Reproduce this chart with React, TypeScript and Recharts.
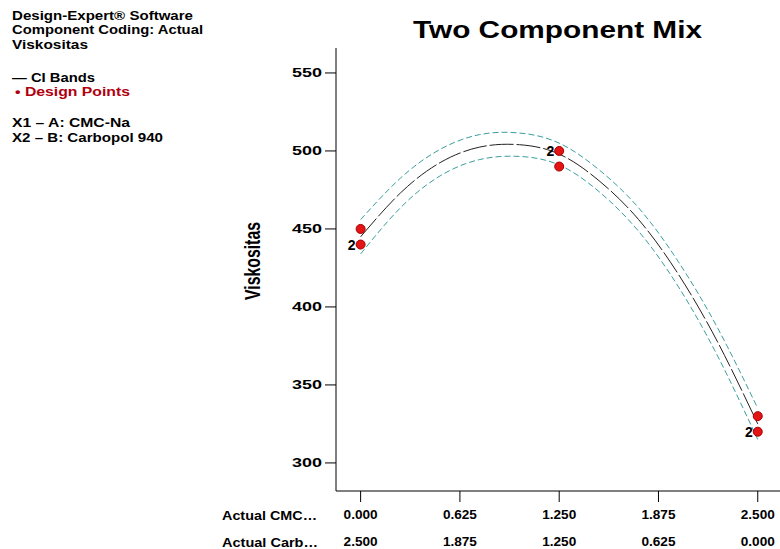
import React from 'react';
import { ComposedChart, Line, Scatter, XAxis, YAxis } from 'recharts';

// fitted curve (actual CMC-Na amount)
const curveX = [0, 0.25, 0.5, 0.75, 1.0, 1.25, 1.5, 1.75, 2.0, 2.25, 2.5];
const meanValues = [445, 473, 492.5, 502.5, 504, 498, 481, 456, 421, 377, 325];
const upperValues = [456, 482.5, 501, 510.5, 511.5, 505, 488, 463.5, 429, 386, 335];
const lowerValues = [434, 463.5, 484, 494.5, 496.5, 491, 474, 448.5, 413, 368, 315];

// design points, with replicate counts
const pointX = [0, 0, 1.25, 1.25, 2.5, 2.5];
const pointY = [450, 440, 500, 490, 330, 320];
const pointRep = ['', '2', '2', '', '', '2'];

const xTicks = [0, 0.625, 1.25, 1.875, 2.5];
const yTicks = [300, 350, 400, 450, 500, 550];
const infoLines = ['Design-Expert® Software', 'Component Coding: Actual', 'Viskositas'];
const factorLines = ['X1 – A: CMC-Na', 'X2 – B: Carbopol 940'];

const FONT = '"Liberation Sans", Arial, sans-serif';
const TOTAL = 2.5;

const curveRows = curveX.map((x, i) => ({ x, mean: meanValues[i], upper: upperValues[i], lower: lowerValues[i] }));
const pointRows = pointX.map((x, i) => ({ x, y: pointY[i], rep: pointRep[i] }));

const YTick = (props: any) => {
  const { x, y, payload } = props;
  return (
    <text x={x} y={y + 4} textAnchor="end" fontFamily={FONT} fontWeight="bold" fontSize={12} fill="#000"
      textLength={30} lengthAdjust="spacingAndGlyphs">
      {payload.value}
    </text>
  );
};

const XTick = (props: any) => {
  const { x, y, payload } = props;
  const v = payload.value as number;
  const other = Math.abs(TOTAL - v);
  return (
    <g>
      <text x={x} y={y + 15} textAnchor="middle" fontFamily={FONT} fontWeight="bold" fontSize={12} fill="#000"
        textLength={34} lengthAdjust="spacingAndGlyphs">
        {v.toFixed(3)}
      </text>
      <text x={x} y={y + 42} textAnchor="middle" fontFamily={FONT} fontWeight="bold" fontSize={12} fill="#000"
        textLength={34} lengthAdjust="spacingAndGlyphs">
        {other.toFixed(3)}
      </text>
    </g>
  );
};

const PointShape = (props: any) => {
  const { cx, cy, payload } = props;
  return (
    <g>
      <circle cx={cx} cy={cy} r={4.5} fill="#e21414" stroke="#a80000" strokeWidth={1} />
      {payload.rep ? (
        <text x={cx - 5} y={cy + 5} textAnchor="end" fontFamily={FONT} fontWeight="bold" fontSize={14} fill="#000">
          {payload.rep}
        </text>
      ) : null}
    </g>
  );
};

const Labels = () => (
  <svg width={780} height={549} style={{ position: 'absolute', left: 0, top: 0, pointerEvents: 'none' }}>
    <g fontFamily={FONT} fontWeight="bold" fontSize={13} fill="#000">
      <text x={12} y={20} textLength={181} lengthAdjust="spacingAndGlyphs">{infoLines[0]}</text>
      <text x={12} y={34} textLength={191} lengthAdjust="spacingAndGlyphs">{infoLines[1]}</text>
      <text x={12} y={49} textLength={76} lengthAdjust="spacingAndGlyphs">{infoLines[2]}</text>
      <text x={12} y={82} textLength={83} lengthAdjust="spacingAndGlyphs">— CI Bands</text>
      <text x={15} y={96} fill="#b00010" textLength={115} lengthAdjust="spacingAndGlyphs">• Design Points</text>
      <text x={12} y={127} textLength={118} lengthAdjust="spacingAndGlyphs">{factorLines[0]}</text>
      <text x={12} y={142} textLength={151} lengthAdjust="spacingAndGlyphs">{factorLines[1]}</text>
      <text x={222} y={520} textLength={95} lengthAdjust="spacingAndGlyphs">Actual CMC…</text>
      <text x={222} y={547} textLength={96} lengthAdjust="spacingAndGlyphs">Actual Carb…</text>
    </g>
    <text x={413} y={38} fontFamily={FONT} fontWeight="bold" fontSize={23} fill="#000"
      textLength={289} lengthAdjust="spacingAndGlyphs">
      Two Component Mix
    </text>
    <text x={260} y={261} transform="rotate(-90 260 261)" textAnchor="middle" fontFamily={FONT}
      fontWeight="bold" fontSize={22} fill="#000" textLength={78} lengthAdjust="spacingAndGlyphs">
      Viskositas
    </text>
  </svg>
);

export default function App() {
  return (
    <div style={{ position: 'absolute', left: 0, top: 0, width: 780, height: 549, background: '#fff' }}>
      <ComposedChart width={780} height={549} data={curveRows} margin={{ top: 48, right: 0, bottom: 0, left: 0 }}>
        <XAxis
          dataKey="x"
          type="number"
          domain={[-0.155, 2.64]}
          allowDataOverflow
          ticks={xTicks}
          height={58}
          tickSize={11}
          tickMargin={2}
          stroke="#000"
          tick={<XTick />}
        />
        <YAxis
          type="number"
          domain={[282, 566]}
          allowDataOverflow
          ticks={yTicks}
          width={336}
          tickSize={11}
          tickMargin={3}
          stroke="#000"
          tick={<YTick />}
        />
        <Line type="natural" dataKey="upper" stroke="#3a9e9e" strokeWidth={1} strokeDasharray="6 3" dot={false} isAnimationActive={false} />
        <Line type="natural" dataKey="lower" stroke="#3a9e9e" strokeWidth={1} strokeDasharray="6 3" dot={false} isAnimationActive={false} />
        <Line type="natural" dataKey="mean" stroke="#222" strokeWidth={1} strokeDasharray="24 3" dot={false} isAnimationActive={false} />
        <Scatter data={pointRows} dataKey="y" shape={<PointShape />} isAnimationActive={false} />
      </ComposedChart>
      <Labels />
    </div>
  );
}
